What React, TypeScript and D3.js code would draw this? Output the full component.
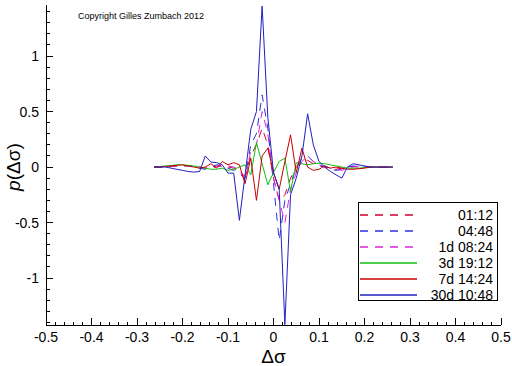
import React from 'react';
import * as d3 from 'd3';

// bins of the volatility change, step 0.0125
const binStep = 0.0125;
const bins = d3.range(-21, 22).map(k => +(k * binStep).toFixed(4));

const seriesNames = ['01:12', '04:48', '1d 08:24', '3d 19:12', '7d 14:24', '30d 10:48'];

const p0112 = [0, 0, 0, 0.005, 0.01, 0.01, 0.01, 0.005, 0, -0.01, 0, 0.01, 0.005, 0, -0.01, -0.05, -0.08, 0.1, 0.2, 0.35, 0.2, -0.1, -0.3, -0.25, -0.1, 0, 0.05, 0.06, 0.03, 0.01, 0, -0.01, -0.02, -0.01, 0, 0.005, 0, 0, 0, 0, 0, 0, 0];
const p0448 = [0, 0, 0, 0.005, 0.01, 0.015, 0.01, 0, -0.01, -0.02, 0, 0.02, 0.01, -0.01, -0.03, -0.06, -0.1, 0.2, 0.3, 0.65, 0.35, -0.15, -0.66, -0.3, -0.15, 0, 0.08, 0.1, 0.05, 0.02, 0, -0.02, -0.03, -0.02, 0, 0.01, 0.005, 0, 0, 0, 0, 0, 0];
const p1d = [0, 0, 0, 0.005, 0.01, 0.01, 0.015, 0.01, 0, -0.01, -0.01, 0, 0.02, 0.01, 0, -0.02, -0.12, 0.15, 0.2, 0.5, 0.3, -0.1, -0.3, -0.5, -0.2, -0.05, 0.05, 0.1, 0.05, 0.02, 0.01, -0.01, -0.02, -0.03, -0.01, 0, 0.01, 0.005, 0, 0, 0, 0, 0];
const p3d = [0, 0.005, 0.01, 0.015, 0.02, 0.02, 0.015, 0.01, 0, -0.01, -0.02, -0.02, -0.01, -0.03, -0.02, 0, 0.02, -0.07, 0.22, 0.03, -0.16, -0.05, 0.05, 0.08, -0.22, 0.04, 0.03, 0.02, 0.03, 0.035, 0.03, 0.02, 0.01, 0, -0.01, -0.01, -0.01, -0.005, 0, 0, 0, 0, 0];
const p7d = [0, 0, 0.005, 0.01, 0.015, 0.02, 0.01, 0, -0.01, 0, 0.03, -0.01, 0.05, 0.02, 0.04, 0.02, -0.15, 0.08, -0.3, 0.1, 0.17, -0.05, -0.2, 0.05, 0.29, -0.05, 0.17, 0, -0.03, -0.02, 0.01, -0.01, 0, -0.01, -0.02, -0.02, -0.015, -0.01, 0, 0, 0, 0, 0];
const p30d = [0, 0, 0, -0.01, -0.02, -0.03, -0.04, -0.045, -0.04, 0.1, 0.045, 0.04, 0.02, -0.055, -0.055, -0.48, -0.07, 0.34, 0.5, 1.45, 0.45, -0.05, -0.2, -1.42, -0.25, -0.1, 0.1, 0.48, 0.2, 0.05, 0, -0.04, -0.07, -0.1, 0, 0.03, 0.02, 0.01, 0, 0, 0, 0, 0];

const seriesValues = [p0112, p0448, p1d, p3d, p7d, p30d];
const seriesColors = ['#d00030', '#3030e0', '#e020e0', '#10c010', '#c80000', '#2020c0'];
const seriesDashed = [true, true, true, false, false, false];

const xTicks = [-0.5, -0.4, -0.3, -0.2, -0.1, 0, 0.1, 0.2, 0.3, 0.4, 0.5];
const yTicks = [-1, -0.5, 0, 0.5, 1];

const W = 512;
const H = 366;
const left = 46;
const right = 501;
const top = 5;
const bottom = 325;
const font = '"Liberation Sans", Arial, Helvetica, sans-serif';

export default function App() {
  const x = d3.scaleLinear().domain([-0.5, 0.5]).range([left, right]);
  const y = d3.scaleLinear().domain([-1.423, 1.46]).range([bottom, top]);

  const line = d3.line<number>()
    .x((_, i) => x(bins[i]))
    .y(d => y(d));

  const xMinor = d3.range(-50, 51, 2).map(v => v / 100);
  const yMinor = d3.range(-14, 15).map(v => v / 10);

  const legX = 358, legY = 202, legW = 139, legH = 98, rowH = 16;

  return (
    <svg width={W} height={H} style={{ position: 'absolute', left: 0, top: 0, background: '#fff' }}>
      <rect width={W} height={H} fill="#fff" />

      {/* data */}
      <g fill="none" strokeWidth={1}>
        {seriesValues.map((vals, i) => (
          <path key={seriesNames[i]} d={line(vals) || ''} stroke={seriesColors[i]}
            strokeDasharray={seriesDashed[i] ? '8 7' : undefined} />
        ))}
      </g>

      {/* axes */}
      <g stroke="#000" shapeRendering="crispEdges">
        <line x1={left} x2={left} y1={top} y2={bottom} />
        <line x1={left} x2={right} y1={bottom} y2={bottom} />
        {xMinor.map(v => (
          <line key={'xm' + v} x1={x(v)} x2={x(v)} y1={bottom} y2={bottom - 3} />
        ))}
        {xTicks.map(v => (
          <line key={'xt' + v} x1={x(v)} x2={x(v)} y1={bottom} y2={bottom - 7} />
        ))}
        {yMinor.map(v => (
          <line key={'ym' + v} x1={left} x2={left + 4} y1={y(v)} y2={y(v)} />
        ))}
        {yTicks.map(v => (
          <line key={'yt' + v} x1={left} x2={left + 7} y1={y(v)} y2={y(v)} />
        ))}
      </g>

      <g fontFamily={font} fontSize={14} fill="#000">
        {xTicks.map(v => (
          <text key={'xl' + v} x={x(v)} y={bottom + 17} textAnchor="middle">{String(v)}</text>
        ))}
        {yTicks.map(v => (
          <text key={'yl' + v} x={left - 7} y={y(v) + 5} textAnchor="end">{String(v)}</text>
        ))}
      </g>

      <text x={(left + right) / 2} y={363} textAnchor="middle" fontFamily={font} fontSize={19}>Δσ</text>
      <text transform={`translate(20,${y(0)}) rotate(-90)`} textAnchor="middle" fontFamily={font} fontSize={19}>
        <tspan fontStyle="italic">p</tspan>(Δσ)
      </text>

      <text x={78} y={19} fontFamily={font} fontSize={9}>Copyright Gilles Zumbach 2012</text>

      {/* legend */}
      <rect x={legX + 0.5} y={legY + 0.5} width={legW} height={legH} fill="#fff" stroke="#000" />
      <g fill="none" strokeWidth={1.4}>
        {seriesNames.map((name, i) => {
          const cy = legY + 13 + i * rowH;
          return (
            <path key={'leg' + name} d={`M${legX + 2},${cy}H${legX + 59}`} stroke={seriesColors[i]}
              strokeDasharray={seriesDashed[i] ? '8 7' : undefined} />
          );
        })}
      </g>
      <g fontFamily={font} fontSize={14} fill="#000">
        {seriesNames.map((name, i) => (
          <text key={'lt' + name} x={legX + legW - 4} y={legY + 18 + i * rowH} textAnchor="end">{name}</text>
        ))}
      </g>
    </svg>
  );
}
